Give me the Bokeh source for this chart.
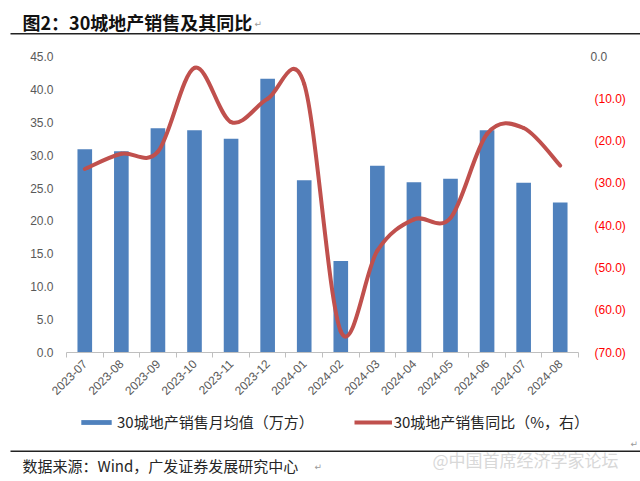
import math
from bokeh.plotting import figure
from bokeh.layouts import column
from bokeh.models import (Range1d, LinearAxis, FixedTicker, CustomJSTickFormatter,
                          NumeralTickFormatter, Label, BoxAnnotation, Legend, LegendItem)
from bokeh.embed import file_html
from bokeh.resources import INLINE

# ---------------- data ----------------
months = ["2023-07", "2023-08", "2023-09", "2023-10", "2023-11", "2023-12", "2024-01",
          "2024-02", "2024-03", "2024-04", "2024-05", "2024-06", "2024-07", "2024-08"]
sales = [30.9, 30.6, 34.1, 33.8, 32.5, 41.6, 26.2, 13.9, 28.4, 25.9, 26.4, 33.8, 25.8, 22.8]
yoy = [-26.6, -23.0, -22.5, -2.7, -15.5, -10.0, -6.5, -65.0, -45.9, -38.5, -38.2, -18.3, -16.9, -25.8]
left_ticks = [0, 5, 10, 15, 20, 25, 30, 35, 40, 45]
right_ticks = [0, -10, -20, -30, -40, -50, -60, -70]

title_text = "图2：30城地产销售及其同比"
legend_bar = "30城地产销售月均值（万方）"
legend_line = "30城地产销售同比（%，右）"
source_text = "数据来源：Wind，广发证券发展研究中心"
watermark = "@中国首席经济学家论坛"

CJK = "Noto Sans CJK SC"
LAT = "Liberation Sans"
BLUE = "#4F81BD"
RED = "#C0504D"
GRAY = "#595959"

n = len(months)
centers = [i + 0.5 for i in range(n)]
bounds = list(range(n + 1))


def bezier_parts(xs, ys):
    """Excel-like smoothing: cubic segments through every data point."""
    out = {k: [] for k in ("x0", "y0", "x1", "y1", "cx0", "cy0", "cx1", "cy1")}
    m = len(xs)
    for i in range(m - 1):
        xp, yp = (xs[i - 1], ys[i - 1]) if i > 0 else (xs[i], ys[i])
        xn, yn = (xs[i + 2], ys[i + 2]) if i + 2 < m else (xs[i + 1], ys[i + 1])
        out["x0"].append(xs[i]); out["y0"].append(ys[i])
        out["x1"].append(xs[i + 1]); out["y1"].append(ys[i + 1])
        out["cx0"].append(xs[i] + (xs[i + 1] - xp) / 6.0)
        out["cy0"].append(ys[i] + (ys[i + 1] - yp) / 6.0)
        out["cx1"].append(xs[i + 1] - (xn - xs[i]) / 6.0)
        out["cy1"].append(ys[i + 1] - (yn - ys[i]) / 6.0)
    return out


def blank(height):
    f = figure(width=640, height=height, output_backend="svg", toolbar_location=None,
               x_range=Range1d(0, 1), y_range=Range1d(0, 1), min_border=0,
               x_axis_location=None, y_axis_location=None, frame_align=False)
    f.outline_line_color = None
    f.grid.visible = False
    return f


def hrule(f, left, right, bottom, top):
    f.add_layout(BoxAnnotation(left=left, right=right, bottom=bottom, top=top,
                               left_units="screen", right_units="screen",
                               bottom_units="screen", top_units="screen",
                               fill_color="#222222", fill_alpha=1, line_color=None))


def para_mark(f, x, y):
    f.add_layout(Label(x=x, y=y, x_units="screen", y_units="screen", text="↵",
                       text_font="DejaVu Sans", text_font_size="9px", text_color="#999999",
                       text_baseline="middle"))


# ---------------- header ----------------
top = blank(40)
top.add_layout(Label(x=22, y=19, x_units="screen", y_units="screen", text=title_text,
                     text_font=CJK, text_font_style="bold", text_font_size="18px",
                     text_color="#111111", text_baseline="middle"))
para_mark(top, 254, 17)
hrule(top, 10, 640, 6, 7.5)

# ---------------- main chart ----------------
p = figure(width=640, height=370, output_backend="svg", toolbar_location=None,
           x_range=Range1d(0, n), y_range=Range1d(0, 45),
           min_border_left=66, min_border_right=62, min_border_top=16, min_border_bottom=58,
           x_axis_location=None, y_axis_location=None, frame_align=False)
p.extra_y_ranges = {"yoy": Range1d(-70, 0)}
p.outline_line_color = None
p.grid.visible = False

yl = LinearAxis(ticker=FixedTicker(ticks=left_ticks), formatter=NumeralTickFormatter(format="0.0"),
                axis_line_color=None, major_tick_line_color=None, minor_tick_line_color=None,
                major_tick_out=0, major_tick_in=0, minor_tick_out=0,
                major_label_standoff=13, major_label_text_font=LAT,
                major_label_text_font_size="12px", major_label_text_color=GRAY)
p.add_layout(yl, "left")

# gray "0.0" on the right scale (closest to the frame)
yr0 = LinearAxis(y_range_name="yoy", ticker=FixedTicker(ticks=[0]),
                 formatter=NumeralTickFormatter(format="0.0"),
                 axis_line_color=None, major_tick_line_color=None, minor_tick_line_color=None,
                 major_tick_out=0, major_tick_in=0, minor_tick_out=0,
                 major_label_standoff=12, major_label_text_font=LAT,
                 major_label_text_font_size="12px", major_label_text_color=GRAY)
p.add_layout(yr0, "right")

# red negative labels, pulled back into the same column
yr = LinearAxis(y_range_name="yoy", ticker=FixedTicker(ticks=right_ticks),
                formatter=CustomJSTickFormatter(
                    code="return tick < 0 ? '(' + Math.abs(tick).toFixed(1) + ')' : '';"),
                axis_line_color=None, major_tick_line_color=None, minor_tick_line_color=None,
                major_tick_out=0, major_tick_in=0, minor_tick_out=0,
                major_label_standoff=-16, major_label_text_font=LAT,
                major_label_text_font_size="12px", major_label_text_color="#FF0000")
p.add_layout(yr, "right")

xb = LinearAxis(ticker=FixedTicker(ticks=centers, minor_ticks=bounds),
                formatter=CustomJSTickFormatter(args=dict(months=months),
                                                code="return months[Math.floor(tick)];"),
                axis_line_color="#BFBFBF", axis_line_width=1,
                major_tick_line_color=None, major_tick_out=0, major_tick_in=0,
                minor_tick_line_color="#BFBFBF", minor_tick_out=5, minor_tick_in=0,
                major_label_orientation=math.pi / 4, major_label_standoff=4,
                major_label_text_font=LAT, major_label_text_font_size="12px",
                major_label_text_color=GRAY)
p.add_layout(xb, "below")

p.vbar(x=centers, top=sales, width=0.4, fill_color=BLUE, line_color=None)
p.bezier(**bezier_parts(centers, yoy), y_range_name="yoy",
         line_color=RED, line_width=4, line_cap="round")

# ---------------- legend strip ----------------
leg = blank(30)
leg.x_range = Range1d(-100, -99)   # keeps the key's series out of view
lb = leg.vbar(x=centers, top=sales, width=0.4, fill_color=BLUE, line_color=None)
lc = leg.bezier(**bezier_parts(centers, yoy), line_color=RED, line_width=4)
legend = Legend(items=[LegendItem(label=legend_bar, renderers=[lb]),
                       LegendItem(label=legend_line, renderers=[lc])],
                orientation="horizontal", location=(77, 8), padding=0, margin=0,
                spacing=40, glyph_width=38, glyph_height=6, label_standoff=2,
                label_height=16, label_text_font=CJK, label_text_font_size="15px",
                label_text_color="#262626", border_line_color=None,
                background_fill_alpha=0, inactive_fill_alpha=0)
leg.add_layout(legend, "center")

# ---------------- footer ----------------
bot = blank(41)
hrule(bot, 10, 640, 29.5, 31)
para_mark(bot, 630, 38)
bot.add_layout(Label(x=22, y=16, x_units="screen", y_units="screen", text=source_text,
                     text_font=CJK, text_font_size="15px", text_color="#262626",
                     text_baseline="middle"))
para_mark(bot, 314, 15)
bot.add_layout(Label(x=432, y=22, x_units="screen", y_units="screen", text=watermark,
                     text_font=CJK, text_font_size="17px", text_color="#D8D8D8",
                     text_baseline="middle"))

layout = column(top, p, leg, bot, spacing=0)
open("out.html", "w").write(file_html(layout, INLINE))
